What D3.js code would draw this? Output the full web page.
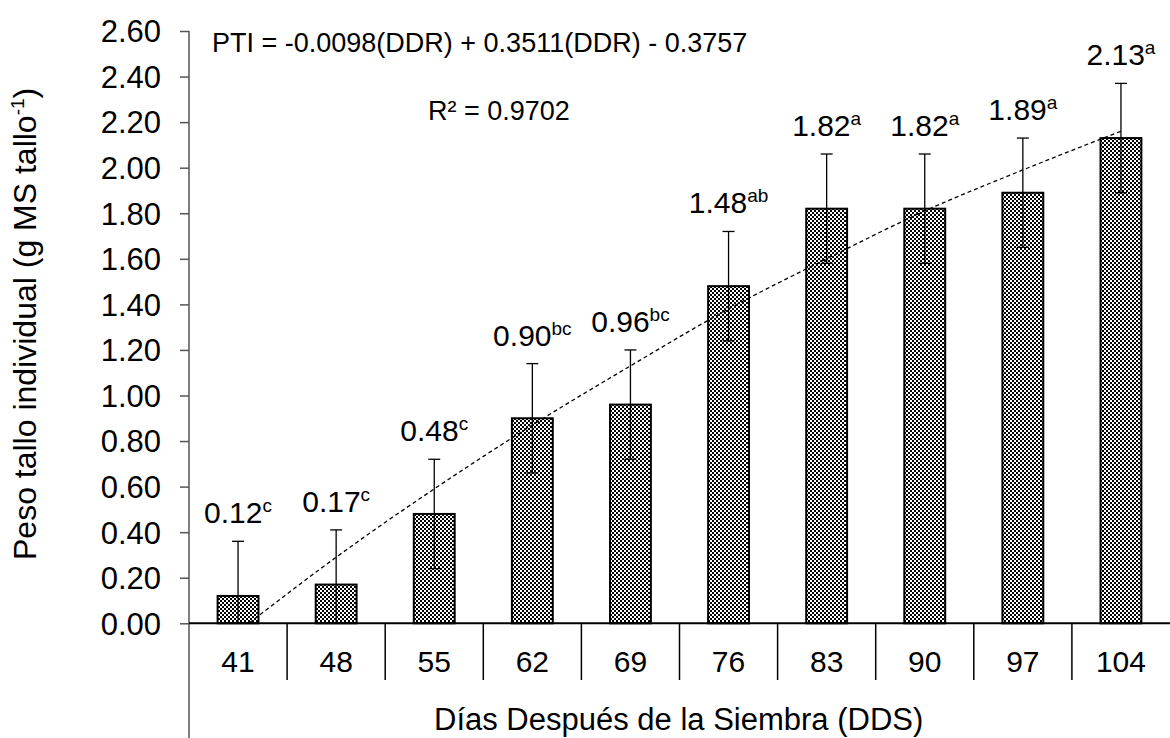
<!DOCTYPE html>
<html>
<head>
<meta charset="utf-8">
<script src="https://cdn.jsdelivr.net/npm/d3@7"></script>
<style>
  body { margin: 0; background: #fff; }
  svg { display: block; font-family: "Liberation Sans", Arial, sans-serif; }
</style>
</head>
<body>
<svg id="chart" width="1170" height="738"></svg>
<script>
// data
const days = ['41', '48', '55', '62', '69', '76', '83', '90', '97', '104'];
const weights = [0.12, 0.17, 0.48, 0.90, 0.96, 1.48, 1.82, 1.82, 1.89, 2.13];
const letters = ['c', 'c', 'c', 'bc', 'bc', 'ab', 'a', 'a', 'a', 'a'];
const errors = [0.24, 0.24, 0.24, 0.24, 0.24, 0.24, 0.24, 0.24, 0.24, 0.24];
// dashed trend curve, sampled at category positions (1 = first bar)
const trendPos = [1.11, 2, 3, 4, 5, 6, 7, 8, 9, 10];
const trendVal = [0, 0.29, 0.59, 0.87, 1.13, 1.38, 1.60, 1.81, 1.99, 2.16];
const yTicks = [0, 0.2, 0.4, 0.6, 0.8, 1.0, 1.2, 1.4, 1.6, 1.8, 2.0, 2.2, 2.4, 2.6];

const svg = d3.select('#chart');

const x = d3.scaleBand().domain(days).range([189, 1170]);
const y = d3.scaleLinear().domain([0, 2.6]).range([623.3, 31]);
const xi = d3.scaleLinear().domain([1, 10])
  .range([x(days[0]) + x.bandwidth() / 2, x(days[9]) + x.bandwidth() / 2]);
const barW = x.bandwidth() / 2.4;

// fill pattern of the bars
const pat = svg.append('defs').append('pattern')
  .attr('id', 'checks').attr('patternUnits', 'userSpaceOnUse')
  .attr('width', 4).attr('height', 4);
pat.append('rect').attr('width', 4).attr('height', 4).attr('fill', '#fff');
pat.append('rect').attr('width', 2).attr('height', 2).attr('fill', '#000');
pat.append('rect').attr('x', 2).attr('y', 2).attr('width', 2).attr('height', 2).attr('fill', '#000');

// y axis
const yAxis = svg.append('g')
  .attr('transform', 'translate(189,0)')
  .call(d3.axisLeft(y).tickValues(yTicks).tickFormat(d3.format('.2f')).tickSize(9).tickPadding(19));
yAxis.select('.domain').remove();
yAxis.selectAll('.tick line').attr('stroke', '#555').attr('stroke-width', 1.5);
yAxis.selectAll('.tick text')
  .attr('font-size', 31).attr('fill', '#000').attr('font-family', '"Liberation Sans", Arial, sans-serif')
  .attr('dy', '0.35em');
svg.append('line').attr('x1', 189).attr('x2', 189).attr('y1', y(2.6)).attr('y2', 738)
  .attr('stroke', '#555').attr('stroke-width', 1.5);

// bars
svg.append('g').selectAll('rect').data(days).join('rect')
  .attr('x', d => x(d) + (x.bandwidth() - barW) / 2)
  .attr('y', (d, i) => y(weights[i]))
  .attr('width', barW)
  .attr('height', (d, i) => y(0) - y(weights[i]))
  .attr('fill', 'url(#checks)')
  .attr('stroke', '#000').attr('stroke-width', 2);

// error bars (lower end clipped at the axis)
const eb = svg.append('g').attr('stroke', '#000').attr('stroke-width', 1.3);
days.forEach((d, i) => {
  const cx = x(d) + x.bandwidth() / 2;
  const hi = weights[i] + errors[i];
  const lo = weights[i] - errors[i];
  eb.append('line').attr('x1', cx).attr('x2', cx)
    .attr('y1', y(hi)).attr('y2', y(Math.max(lo, 0)));
  eb.append('line').attr('x1', cx - 6).attr('x2', cx + 6)
    .attr('y1', y(hi)).attr('y2', y(hi));
  if (lo > 0) {
    eb.append('line').attr('x1', cx - 6).attr('x2', cx + 6)
      .attr('y1', y(lo)).attr('y2', y(lo));
  }
});

// trend line
svg.append('path')
  .datum(trendPos.map((p, i) => [p, trendVal[i]]))
  .attr('d', d3.line().x(d => xi(d[0])).y(d => y(d[1])).curve(d3.curveMonotoneX))
  .attr('fill', 'none').attr('stroke', '#000').attr('stroke-width', 1.3)
  .attr('stroke-dasharray', '4,3');

// x axis line and category dividers
svg.append('line').attr('x1', 189).attr('x2', 1170).attr('y1', y(0)).attr('y2', y(0))
  .attr('stroke', '#000').attr('stroke-width', 2);
svg.append('g').selectAll('line').data(days.slice(1)).join('line')
  .attr('x1', d => x(d)).attr('x2', d => x(d))
  .attr('y1', y(0)).attr('y2', 680)
  .attr('stroke', '#000').attr('stroke-width', 1.5);
svg.append('g').selectAll('text').data(days).join('text')
  .attr('x', d => x(d) + x.bandwidth() / 2).attr('y', 672)
  .attr('text-anchor', 'middle').attr('font-size', 30)
  .text(d => d);

// value labels with letters
const vl = svg.append('g').selectAll('text').data(days).join('text')
  .attr('x', d => x(d) + x.bandwidth() / 2)
  .attr('y', (d, i) => y(weights[i] + errors[i]) - 18)
  .attr('text-anchor', 'middle').attr('font-size', 30);
vl.append('tspan').text((d, i) => weights[i].toFixed(2));
vl.append('tspan').attr('font-size', 19).attr('dy', -11).text((d, i) => letters[i]);

// equation
svg.append('text').attr('x', 212).attr('y', 52).attr('font-size', 27)
  .text('PTI = -0.0098(DDR) + 0.3511(DDR) - 0.3757');
svg.append('text').attr('x', 428).attr('y', 120).attr('font-size', 27)
  .text('R² = 0.9702');

// axis titles
const yt = svg.append('text')
  .attr('transform', 'translate(36,560) rotate(-90)')
  .attr('font-size', 32);
yt.append('tspan').text('Peso tallo individual (g MS tallo');
yt.append('tspan').attr('font-size', 19).attr('dy', -12).text('-1');
yt.append('tspan').attr('dy', 12).text(')');

svg.append('text').attr('x', 434).attr('y', 730)
  .attr('font-size', 31)
  .text('Días Después de la Siembra (DDS)');
</script>
</body>
</html>
